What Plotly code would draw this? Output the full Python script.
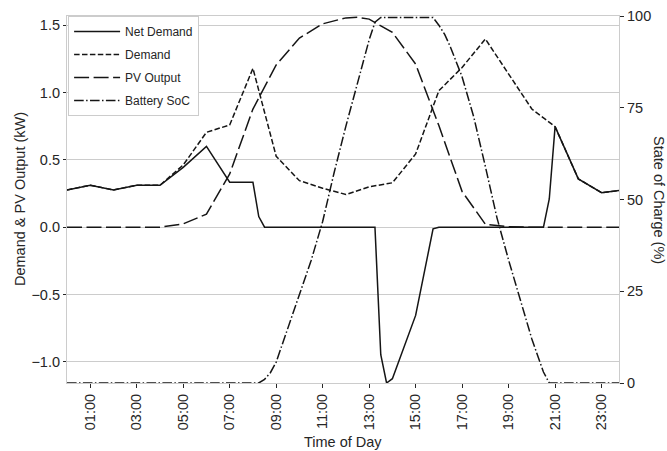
import pandas as pd
import plotly.graph_objects as go

DAY = "2000-01-01 "

# ---- data ----
net_times = ["00:00", "01:00", "02:00", "03:00", "04:00", "05:00", "06:00", "07:00",
             "08:00", "08:15", "08:30", "13:15", "13:30", "13:45", "14:00", "15:00",
             "15:45", "16:00", "20:30", "20:45", "21:00", "22:00", "23:00", "23:45"]
net_vals = [0.277, 0.312, 0.277, 0.312, 0.312, 0.445, 0.600, 0.334,
            0.334, 0.079, 0.0, 0.0, -0.947, -1.157, -1.125, -0.655,
            -0.012, 0.0, 0.0, 0.21, 0.747, 0.359, 0.257, 0.272]

demand_times = ["00:00", "01:00", "02:00", "03:00", "04:00", "05:00", "06:00", "07:00",
                "08:00", "09:00", "10:00", "11:00", "12:00", "13:00", "14:00", "15:00",
                "16:00", "17:00", "18:00", "19:00", "20:00", "21:00", "22:00", "23:00", "23:45"]
demand_vals = [0.277, 0.312, 0.277, 0.312, 0.312, 0.462, 0.705, 0.760,
               1.180, 0.527, 0.346, 0.290, 0.243, 0.300, 0.330, 0.544,
               1.014, 1.187, 1.398, 1.138, 0.878, 0.747, 0.359, 0.257, 0.272]

pv_times = ["00:00", "04:00", "05:00", "06:00", "07:00", "08:00", "09:00", "10:00",
            "11:00", "12:00", "12:30", "13:00", "14:00", "15:00", "16:00", "17:00",
            "18:00", "19:00", "20:00", "23:45"]
pv_vals = [0.0, 0.0, 0.025, 0.097, 0.396, 0.878, 1.205, 1.405,
           1.511, 1.555, 1.560, 1.546, 1.447, 1.212, 0.755, 0.265,
           0.022, 0.003, 0.0, 0.0]

soc_times = ["00:00", "08:15", "08:30", "08:45", "09:00", "09:30", "10:00", "10:30",
             "11:00", "11:30", "12:00", "12:30", "13:00", "13:15", "13:30", "15:45",
             "16:00", "16:15", "16:30", "17:00", "17:30", "18:00", "18:30", "19:00",
             "19:30", "20:00", "20:30", "20:45", "23:45"]
soc_vals = [0.0, 0.0, 1.0, 2.8, 5.7, 14.8, 24.1, 33.3,
            44.0, 57.5, 70.0, 82.0, 93.5, 98.3, 99.6, 99.6,
            97.5, 95.0, 91.5, 83.4, 72.5, 59.0, 45.0, 33.5,
            22.4, 12.0, 3.0, 0.0, 0.0]

x_tick_labels = ["01:00", "03:00", "05:00", "07:00", "09:00", "11:00",
                 "13:00", "15:00", "17:00", "19:00", "21:00", "23:00"]
left_ticks = [-1.0, -0.5, 0.0, 0.5, 1.0, 1.5]
right_ticks = [0, 25, 50, 75, 100]

x_title = "Time of Day"
left_title = "Demand & PV Output (kW)"
right_title = "State of Charge (%)"


def to_dt(ts):
    return pd.to_datetime([DAY + t for t in ts])


LINE = "#151515"
TXT = "#262626"
SPINE = "#cccccc"
FONT = "Liberation Sans, Arial, sans-serif"

fig = go.Figure()
fig.add_trace(go.Scatter(x=to_dt(net_times), y=net_vals, name="Net Demand", mode="lines",
                         legendgroup="a", line=dict(color=LINE, width=1.5)))
fig.add_trace(go.Scatter(x=to_dt(demand_times), y=demand_vals, name="Demand", mode="lines",
                         legendgroup="b", line=dict(color=LINE, width=1.5, dash="5.5px,2.4px")))
fig.add_trace(go.Scatter(x=to_dt(pv_times), y=pv_vals, name="PV Output", mode="lines",
                         legendgroup="c", line=dict(color=LINE, width=1.5, dash="15px,4.5px")))
fig.add_trace(go.Scatter(x=to_dt(soc_times), y=soc_vals, name="Battery SoC", mode="lines",
                         legendgroup="d", yaxis="y2",
                         line=dict(color=LINE, width=1.5, dash="9.6px,2.4px,1.5px,2.4px")))

fig.update_layout(
    width=667, height=451,
    margin=dict(l=66.7, r=47.5, t=15.7, b=68.3, autoexpand=False),
    paper_bgcolor="white", plot_bgcolor="white",
    font=dict(family=FONT, color=TXT, size=14.5),
    showlegend=True,
    legend=dict(x=0.002, y=1, xanchor="left", yanchor="top",
                bgcolor="white", bordercolor=SPINE, borderwidth=1,
                font=dict(size=12, color=TXT), tracegroupgap=4,
                itemwidth=46, traceorder="grouped"),
    xaxis=dict(
        type="date", automargin=False,
        range=[DAY + "00:00", DAY + "23:45"],
        tickvals=list(to_dt(x_tick_labels)), ticktext=x_tick_labels,
        tickangle=-90, tickfont=dict(size=14.5, color=TXT),
        ticks="outside", ticklen=4, tickwidth=1, tickcolor=TXT,
        showgrid=False, zeroline=False,
        showline=True, linecolor=SPINE, linewidth=1.2, mirror=True,
    ),
    yaxis=dict(
        automargin=False,
        range=[-1.157, 1.569],
        tickvals=left_ticks, tickformat=".1f",
        tickfont=dict(size=14.5, color=TXT),
        ticks="outside", ticklen=3, tickwidth=1, tickcolor=TXT,
        showgrid=True, gridcolor=SPINE, gridwidth=1, zeroline=False,
        showline=True, linecolor=SPINE, linewidth=1.2,
    ),
    yaxis2=dict(
        overlaying="y", side="right", automargin=False,
        range=[0, 100], tickvals=right_ticks,
        tickfont=dict(size=14.5, color=TXT),
        ticks="outside", ticklen=4, tickwidth=1, tickcolor=TXT,
        showgrid=False, zeroline=False,
        showline=True, linecolor=SPINE, linewidth=1.2,
    ),
    annotations=[
        dict(text=x_title, xref="paper", yref="paper", x=0.5, y=0,
             xanchor="center", yanchor="middle", yshift=-58.5, showarrow=False,
             font=dict(size=14.5, color=TXT)),
        dict(text=left_title, xref="paper", yref="paper", x=0, y=0.5,
             xanchor="center", yanchor="middle", xshift=-47.5, textangle=-90,
             showarrow=False, font=dict(size=14.5, color=TXT)),
        dict(text=right_title, xref="paper", yref="paper", x=1, y=0.5,
             xanchor="center", yanchor="middle", xshift=40.5, textangle=90,
             showarrow=False, font=dict(size=14.5, color=TXT)),
    ],
)

fig.write_html("out.html")
